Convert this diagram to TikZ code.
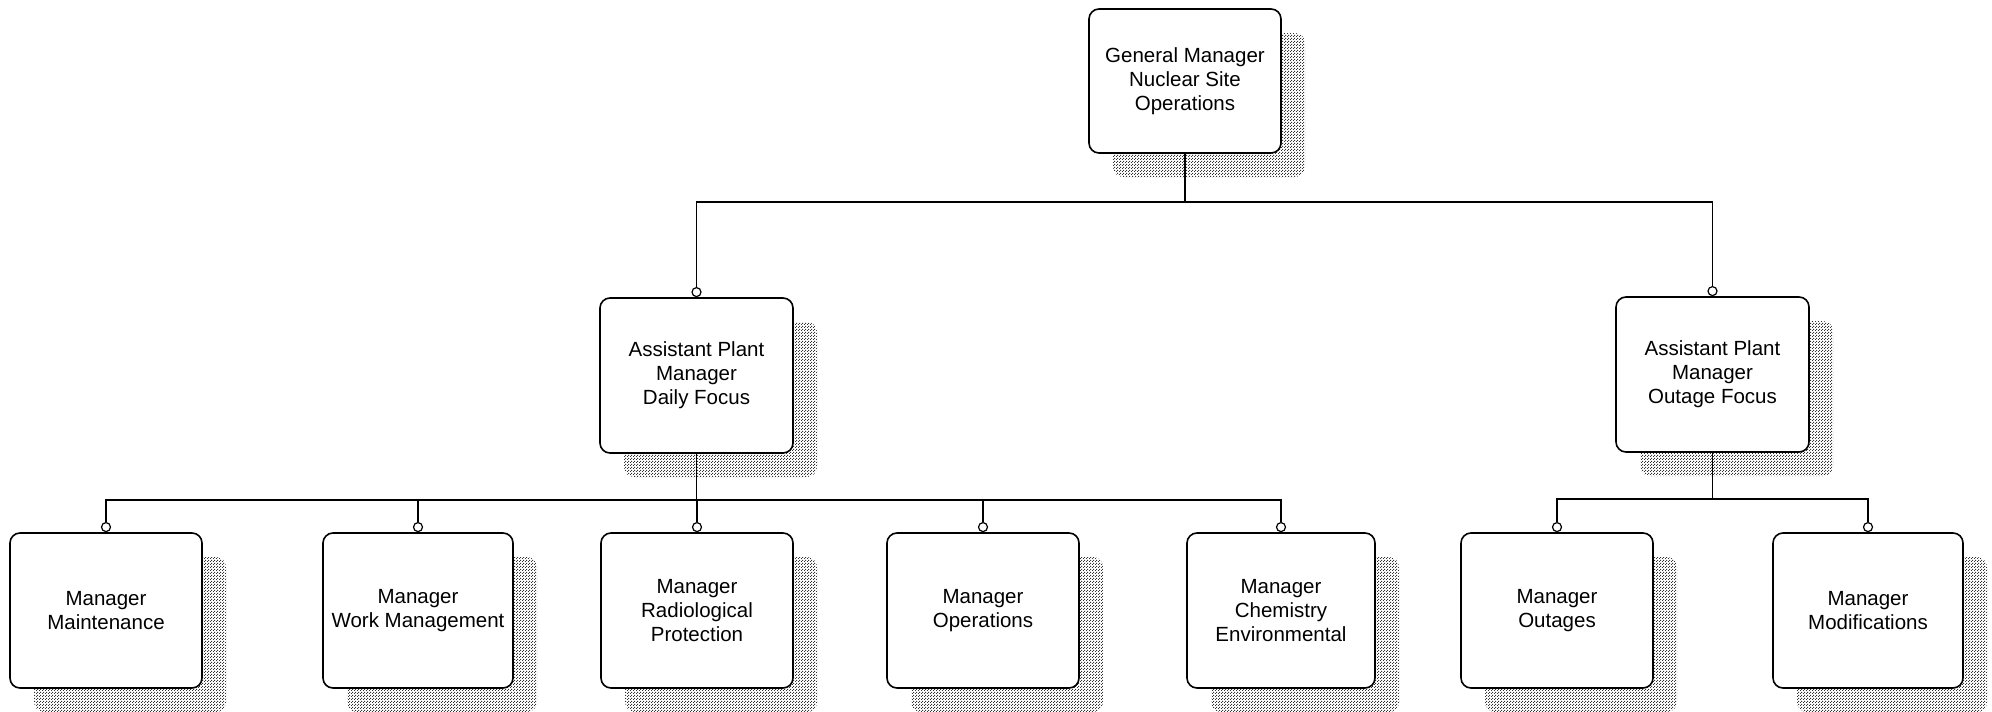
\documentclass[tikz,border=0pt]{standalone}
\usepackage{fontspec}
\setmainfont{Liberation Sans}
\usetikzlibrary{shadows,patterns}
% fine stippled fill used for the box shadows
\pgfdeclarepatternformonly{stipple}{\pgfqpoint{0pt}{0pt}}{\pgfqpoint{3pt}{3pt}}{\pgfqpoint{3pt}{3pt}}{%
  \pgfpathrectangle{\pgfqpoint{0pt}{0pt}}{\pgfqpoint{1.2pt}{1.2pt}}%
  \pgfpathrectangle{\pgfqpoint{1.5pt}{1.5pt}}{\pgfqpoint{1.2pt}{1.2pt}}%
  \pgfusepath{fill}}
\begin{document}
\begin{tikzpicture}[x=1pt,y=-1pt,
  orgbox/.style={draw=black, line width=1.6pt, fill=white, rounded corners=10pt,
    minimum width=192pt, minimum height=155pt, align=center, inner sep=2pt,
    font=\fontsize{20.5}{24}\selectfont,
    drop shadow={shadow xshift=24pt, shadow yshift=-24pt, rounded corners=4pt,
      pattern=stipple, pattern color=black!80, opacity=1}},
  port/.style={circle, draw=black, line width=1.2pt, fill=white, inner sep=0pt, minimum size=9pt},
  link/.style={draw=black, line width=1.4pt}]
\useasboundingbox (0,0) rectangle (1992,712);

% top level
\node[orgbox, minimum height=144pt] (gm) at (1185,81) {General Manager\\Nuclear Site\\Operations};

% second level
\node[orgbox, minimum width=193pt] (apd) at (696.5,375.5) {Assistant Plant\\Manager\\Daily Focus};
\node[orgbox, minimum width=193pt] (apo) at (1712.5,374.5) {Assistant Plant\\Manager\\Outage Focus};

% third level
\node[orgbox] (mm)  at (106,610.5)  {Manager\\Maintenance};
\node[orgbox, minimum width=190pt] (mwm) at (418,610.5)  {Manager\\Work Management};
\node[orgbox] (mrp) at (697,610.5)  {Manager\\Radiological\\Protection};
\node[orgbox] (mop) at (983,610.5)  {Manager\\Operations};
\node[orgbox, minimum width=188pt] (mce) at (1281,610.5) {Manager\\Chemistry\\Environmental};
\node[orgbox] (mou) at (1557,610.5) {Manager\\Outages};
\node[orgbox, minimum width=190pt] (mmo) at (1868,610.5) {Manager\\Modifications};

% connector end markers
\foreach \n in {apd,apo,mm,mwm,mrp,mop,mce,mou,mmo}
  \node[port, anchor=south] (p\n) at (\n.north) {};

% connectors
\foreach \n in {apd,apo}
  \draw[link] (gm.south) -- ++(0,48) -| (p\n.north);
\foreach \n in {mm,mwm,mrp,mop,mce}
  \draw[link] (apd.south) -- ++(0,46) -| (p\n.north);
\foreach \n in {mou,mmo}
  \draw[link] (apo.south) -- ++(0,46) -| (p\n.north);
\end{tikzpicture}
\end{document}
